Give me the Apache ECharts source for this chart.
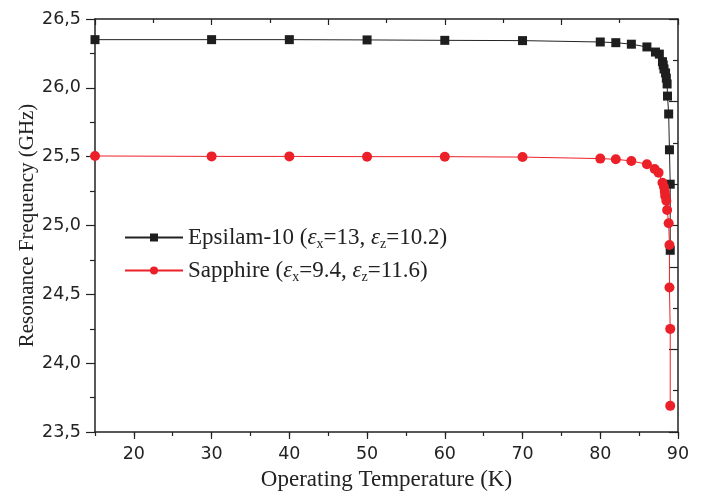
<!DOCTYPE html>
<html><head><meta charset="utf-8">
<script src="https://cdn.jsdelivr.net/npm/echarts@6/dist/echarts.min.js"></script>
<style>html,body{margin:0;padding:0;background:#fff}#c{width:701px;height:494px}</style>
</head><body><div id="c"></div>
<script>
const epsT = [15,30,40,50,60,70,80,82,84,86,87.1,87.6,88.0,88.1,88.2,88.4,88.5,88.6,88.65,88.8,88.9,89.0,89.0];
const epsF = [26.35,26.35,26.35,26.348,26.345,26.343,26.333,26.328,26.317,26.297,26.26,26.245,26.19,26.166,26.137,26.108,26.07,26.028,25.94,25.81,25.55,25.30,24.82];
const sapT = [15,30,40,50,60,70,80,82,84,86,87,87.5,88.0,88.2,88.3,88.35,88.5,88.6,88.8,88.9,88.9,89.0,89.0];
const sapF = [25.505,25.502,25.502,25.5,25.5,25.497,25.486,25.481,25.469,25.445,25.41,25.384,25.31,25.28,25.246,25.215,25.18,25.113,25.016,24.859,24.549,24.249,23.69];
const xLabels = [20,30,40,50,60,70,80,90];
const seriesNames = ['Epsilam-10','Sapphire'];

const pair = (a,b)=>a.map((v,i)=>[v,b[i]]);
const serif = 'Liberation Serif';
const sans = 'DejaVu Sans';
const chart = echarts.init(document.getElementById('c'));
chart.setOption({
  animation:false,
  grid:{left:95,right:23,top:19,bottom:62,containLabel:false,outerBoundsMode:'none'},
  legend:{
    left:119, top:221, orient:'vertical', itemWidth:58, itemHeight:10, itemGap:8,
    data:seriesNames,
    formatter:function(n){
      if(n==='Epsilam-10') return 'Epsilam-10 ({e|ε}{s|x}=13, {e|ε}{s|z}=10.2)';
      return 'Sapphire ({e|ε}{s|x}=9.4, {e|ε}{s|z}=11.6)';
    },
    textStyle:{fontFamily:serif,fontSize:23,color:'#222',
      rich:{e:{fontFamily:serif,fontStyle:'italic',fontSize:23,color:'#222'},
            s:{fontFamily:serif,fontSize:14,color:'#222',padding:[13,0,0,0]}}}
  },
  xAxis:[{
    type:'value',min:15,max:90,interval:5,position:'bottom',
    name:'Operating Temperature (K)',nameLocation:'middle',nameGap:36,nameMoveOverlap:false,
    nameTextStyle:{fontFamily:serif,fontSize:23,color:'#222'},
    axisLine:{lineStyle:{color:'#222',width:1.5}},
    axisTick:{show:true,length:7,lineStyle:{color:'#222',width:1.2},customValues:xLabels},
    axisLabel:{fontFamily:sans,fontSize:17.5,color:'#222',margin:13,customValues:xLabels},
    splitLine:{show:false}
  },{
    type:'value',min:15,max:90,interval:5,position:'bottom',
    axisLine:{show:false},
    axisTick:{show:true,length:4,lineStyle:{color:'#222',width:1.2}},
    axisLabel:{show:false},splitLine:{show:false}
  },{
    type:'value',min:0,max:10,interval:2,position:'top',
    axisLine:{lineStyle:{color:'#222',width:1.5}},
    axisTick:{show:true,inside:true,length:6,lineStyle:{color:'#222',width:1.2}},
    minorTick:{show:true,splitNumber:2,length:4,lineStyle:{color:'#222',width:1.2}},
    axisLabel:{show:false},splitLine:{show:false}
  }],
  yAxis:[{
    type:'value',min:23.5,max:26.5,interval:0.5,position:'left',
    name:'Resonance Frequency (GHz)',nameLocation:'middle',nameGap:57,nameMoveOverlap:false,
    nameTextStyle:{fontFamily:serif,fontSize:21,color:'#222'},
    axisLine:{show:true,lineStyle:{color:'#222',width:1.5}},
    axisTick:{show:true,length:9,lineStyle:{color:'#222',width:1.2}},
    minorTick:{show:true,splitNumber:2,length:5,lineStyle:{color:'#222',width:1.2}},
    axisLabel:{fontFamily:sans,fontSize:17.5,color:'#222',margin:14,
      formatter:v=>v.toFixed(1).replace('.',',')},
    splitLine:{show:false}
  },{
    type:'value',min:0,max:5,interval:1,position:'right',
    axisLine:{show:true,lineStyle:{color:'#222',width:1.5}},
    axisTick:{show:true,inside:true,length:9,lineStyle:{color:'#222',width:1.2}},
    minorTick:{show:true,splitNumber:2,length:5,lineStyle:{color:'#222',width:1.2}},
    axisLabel:{show:false},splitLine:{show:false}
  }],
  series:[{
    name:seriesNames[0],type:'line',xAxisIndex:0,yAxisIndex:0,
    data:pair(epsT,epsF),symbol:'rect',symbolSize:9,
    itemStyle:{color:'#1e1e1e'},lineStyle:{color:'#222',width:1}
  },{
    name:seriesNames[1],type:'line',xAxisIndex:0,yAxisIndex:0,
    data:pair(sapT,sapF),symbol:'circle',symbolSize:10,
    itemStyle:{color:'#ec2028'},lineStyle:{color:'#ec2028',width:1}
  }]
});
</script></body></html>
